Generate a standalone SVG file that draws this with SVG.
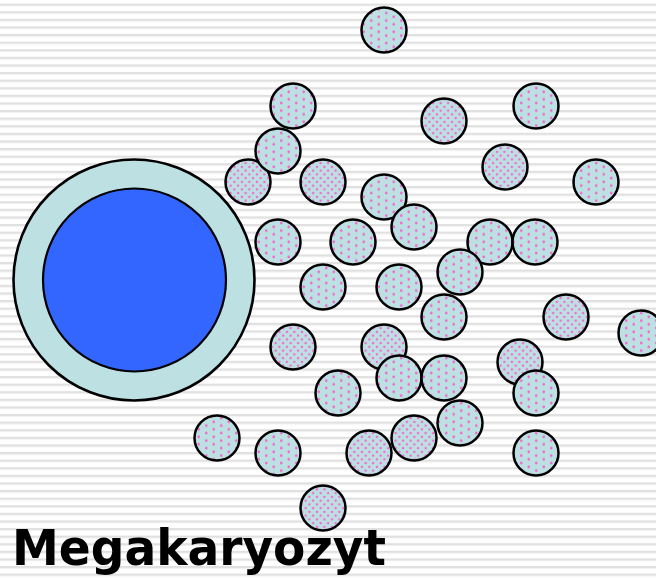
<svg xmlns="http://www.w3.org/2000/svg" width="656" height="579" viewBox="0 0 656 579">
  <defs>
    <pattern id="stripes" width="656" height="7.6" patternUnits="userSpaceOnUse" y="3.6">
      <rect x="0" y="0" width="656" height="2" fill="#e0e0e0"/>
      <rect x="0" y="2" width="656" height="1" fill="#efefef"/>
    </pattern>
    <pattern id="dotsSparse" width="15" height="7.5" patternUnits="userSpaceOnUse">
      <rect width="15" height="7.5" fill="#bde0e3"/>
      <circle cx="3.75" cy="1.9" r="1.35" fill="#f766cf"/>
      <circle cx="11.25" cy="5.65" r="1.35" fill="#f766cf"/>
    </pattern>
    <pattern id="dotsDense" width="7.5" height="7.5" patternUnits="userSpaceOnUse">
      <rect width="7.5" height="7.5" fill="#bde0e3"/>
      <circle cx="1.9" cy="1.9" r="1.25" fill="#f766cf"/>
      <circle cx="5.65" cy="5.65" r="1.25" fill="#f766cf"/>
    </pattern>
  </defs>
  <style>
    .plt { stroke: #000; stroke-width: 2.5; }
    .sp { fill: url(#dotsSparse); }
    .dn { fill: url(#dotsDense); }
    .label { font-family: "DejaVu Sans", Verdana, sans-serif; font-weight: bold; font-size: 50px; fill: #000; }
  </style>

  <rect width="656" height="579" fill="#ffffff"/>
  <rect width="656" height="579" fill="url(#stripes)"/>

  <!-- megakaryocyte: cytoplasm and nucleus -->
  <g id="megakaryocyte">
    <circle cx="134" cy="280" r="120.5" fill="#bde0e3" stroke="#000" stroke-width="2.6"/>
    <circle cx="134.5" cy="280" r="91.5" fill="#3366ff" stroke="#000" stroke-width="2.2"/>
  </g>

  <!-- platelets shed from the cell -->
  <g id="platelets">
    <circle id="p1" class="plt sp" cx="384" cy="30" r="22.5"/>
    <circle id="p2" class="plt sp" cx="293" cy="106" r="22.5"/>
    <circle id="p3" class="plt sp" cx="536" cy="106" r="22.5"/>
    <circle id="p4" class="plt dn" cx="444" cy="121" r="22.5"/>
    <circle id="p7" class="plt dn" cx="248" cy="182" r="22.5"/>
    <circle id="p5" class="plt sp" cx="278" cy="151" r="22.5"/>
    <circle id="p6" class="plt dn" cx="505" cy="167" r="22.5"/>
    <circle id="p8" class="plt dn" cx="323" cy="182" r="22.5"/>
    <circle id="p9" class="plt sp" cx="596" cy="182" r="22.5"/>
    <circle id="p10" class="plt sp" cx="384" cy="197" r="22.5"/>
    <circle id="p11" class="plt sp" cx="414" cy="227" r="22.5"/>
    <circle id="p12" class="plt sp" cx="278" cy="242" r="22.5"/>
    <circle id="p13" class="plt sp" cx="353" cy="242" r="22.5"/>
    <circle id="p14" class="plt sp" cx="490" cy="242" r="22.5"/>
    <circle id="p15" class="plt sp" cx="535" cy="242" r="22.5"/>
    <circle id="p16" class="plt sp" cx="460" cy="272" r="22.5"/>
    <circle id="p17" class="plt sp" cx="323" cy="287" r="22.5"/>
    <circle id="p18" class="plt sp" cx="399" cy="287" r="22.5"/>
    <circle id="p19" class="plt sp" cx="444" cy="317" r="22.5"/>
    <circle id="p20" class="plt dn" cx="566" cy="317" r="22.5"/>
    <circle id="p21" class="plt sp" cx="641" cy="333" r="22.5"/>
    <circle id="p22" class="plt dn" cx="293" cy="347" r="22.5"/>
    <circle id="p23" class="plt dn" cx="384" cy="347" r="22.5"/>
    <circle id="p24" class="plt dn" cx="520" cy="362" r="22.5"/>
    <circle id="p25" class="plt sp" cx="399" cy="378" r="22.5"/>
    <circle id="p26" class="plt sp" cx="444" cy="378" r="22.5"/>
    <circle id="p27" class="plt sp" cx="338" cy="393" r="22.5"/>
    <circle id="p28" class="plt sp" cx="536" cy="393" r="22.5"/>
    <circle id="p29" class="plt sp" cx="460" cy="423" r="22.5"/>
    <circle id="p30" class="plt sp" cx="217" cy="438" r="22.5"/>
    <circle id="p31" class="plt sp" cx="278" cy="453" r="22.5"/>
    <circle id="p32" class="plt dn" cx="369" cy="453" r="22.5"/>
    <circle id="p33" class="plt dn" cx="414" cy="438" r="22.5"/>
    <circle id="p34" class="plt sp" cx="536" cy="453" r="22.5"/>
    <circle id="p35" class="plt dn" cx="323" cy="508" r="22.5"/>
  </g>

  <g id="caption">
    <text class="label" x="12" y="565" textLength="374" lengthAdjust="spacingAndGlyphs">Megakaryozyt</text>
  </g>
</svg>
